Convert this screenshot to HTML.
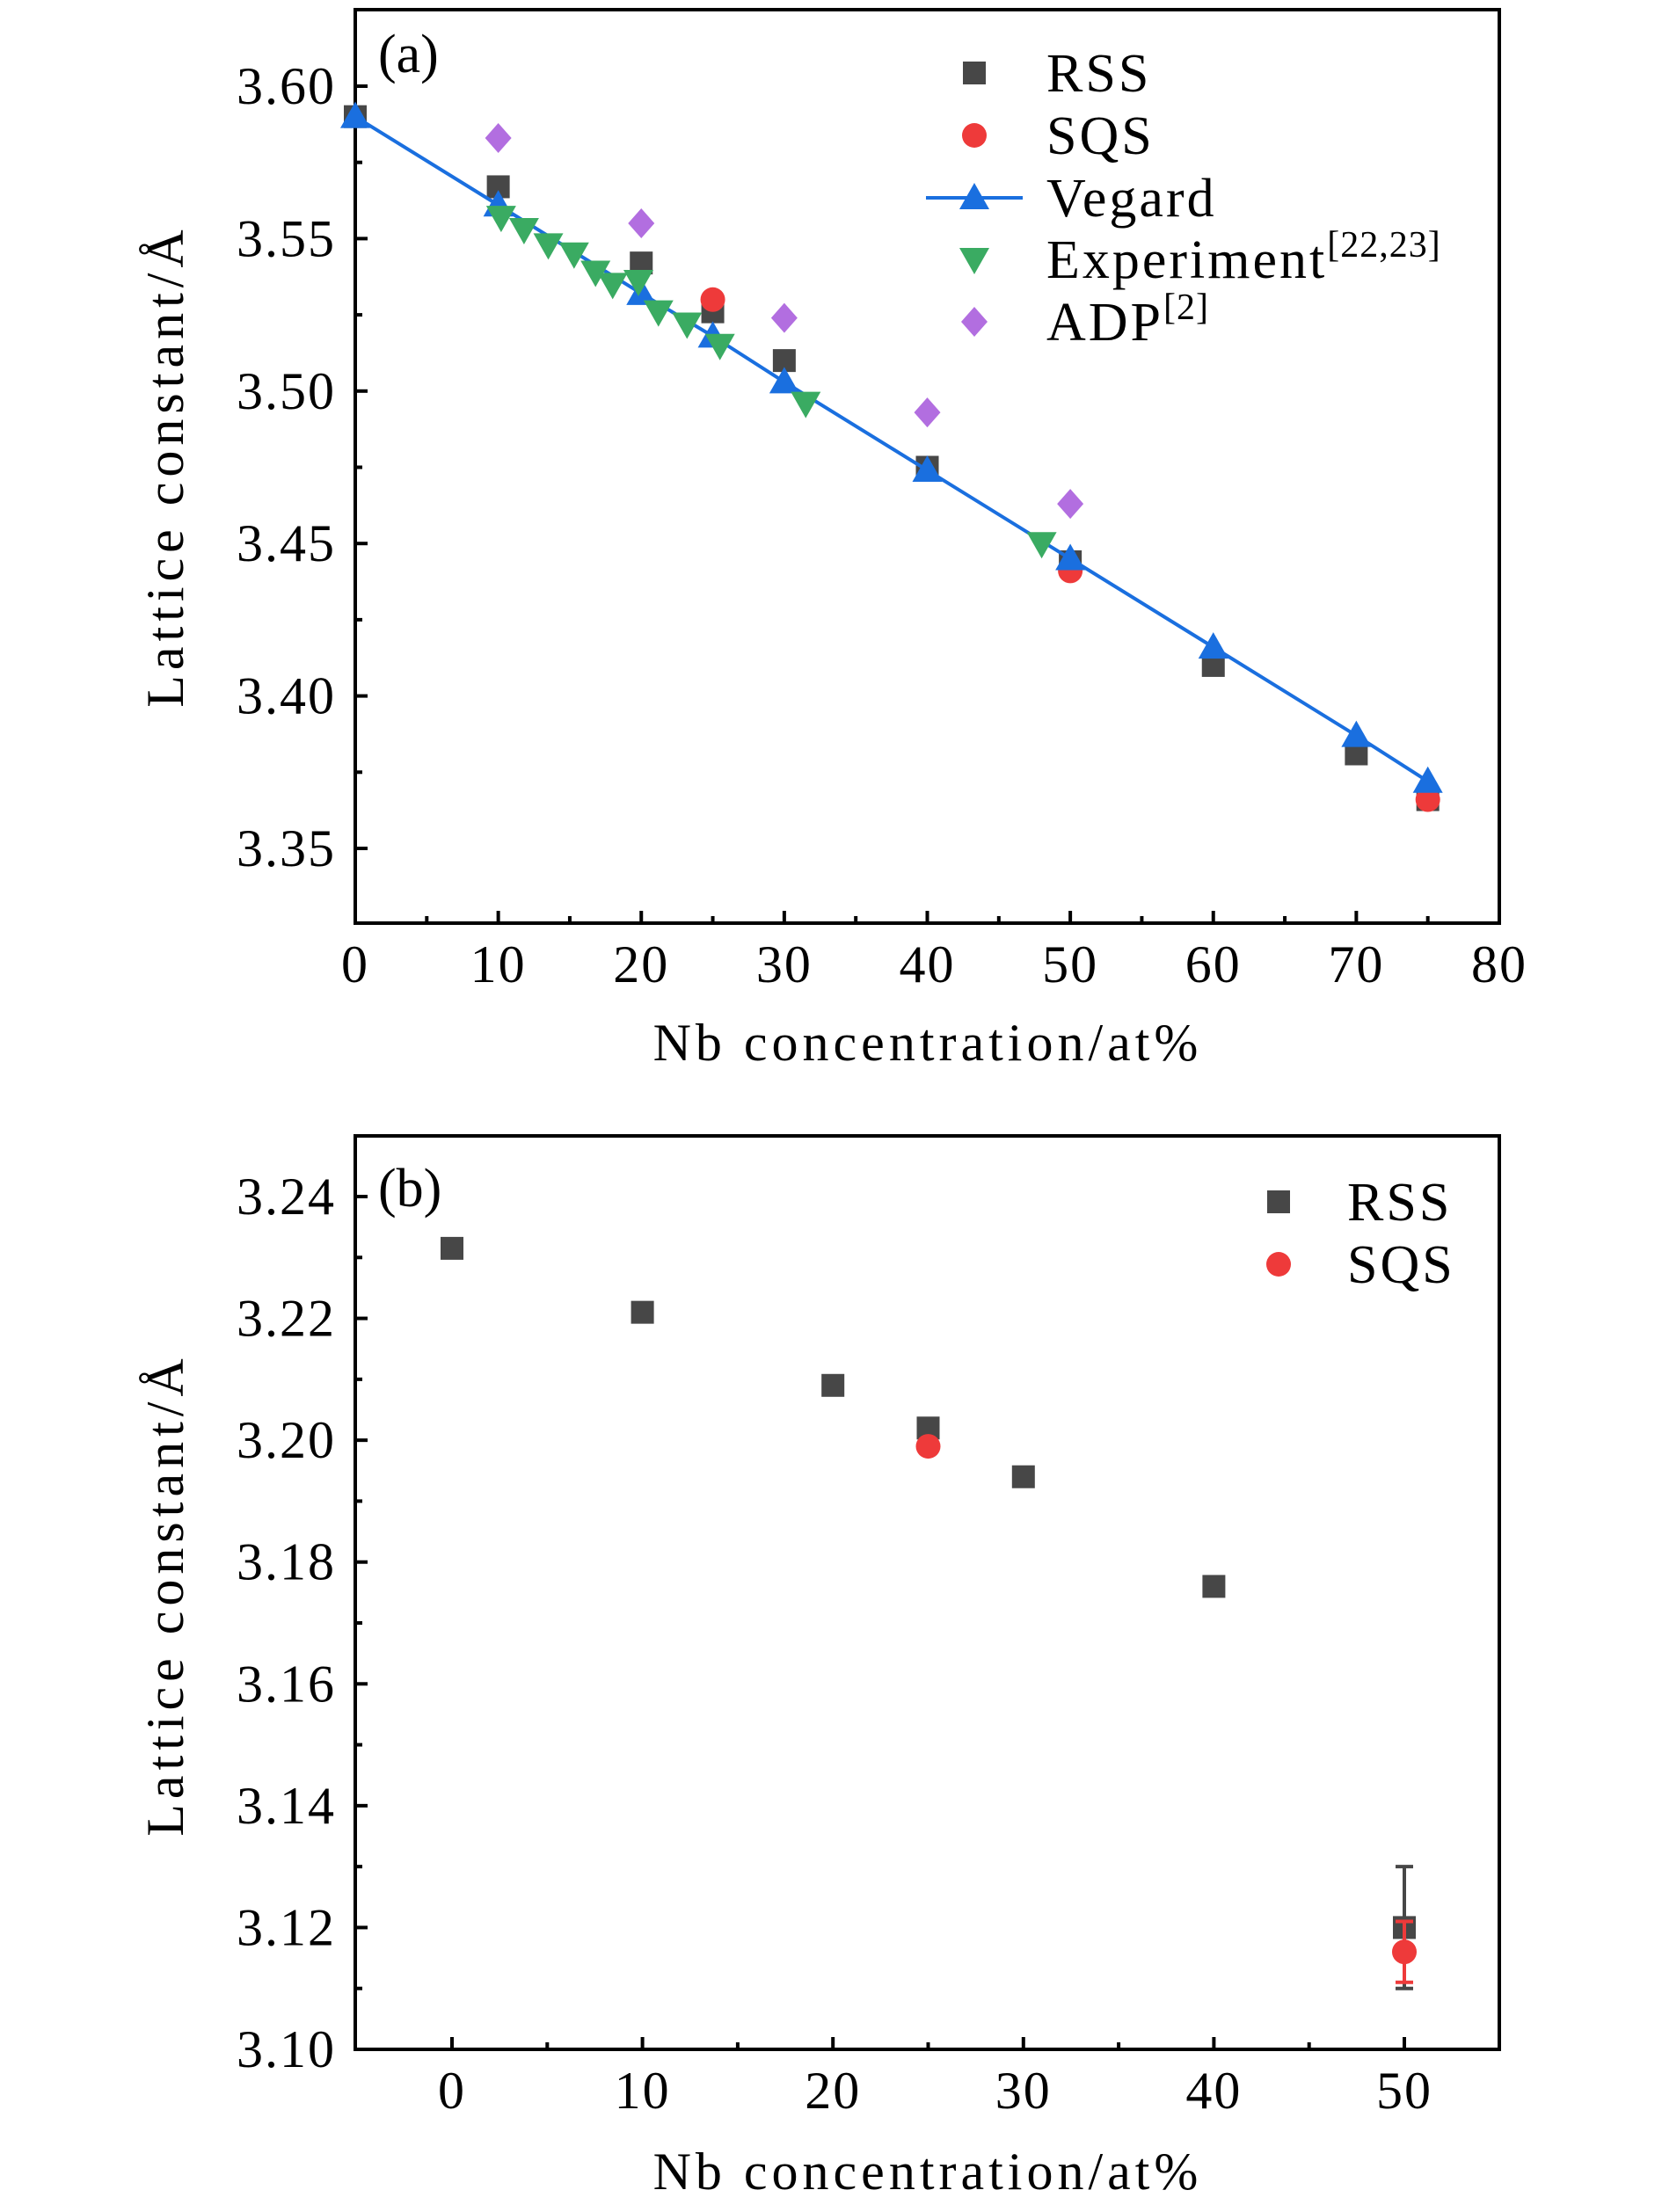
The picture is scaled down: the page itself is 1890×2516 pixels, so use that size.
<!DOCTYPE html>
<html><head><meta charset="utf-8"><style>
html,body{margin:0;padding:0;background:#fff;}
svg{display:block;font-family:"Liberation Serif","DejaVu Serif",serif;}
</style></head><body>
<svg id="chart" width="1890" height="2516" viewBox="0 0 1890 2516" xmlns="http://www.w3.org/2000/svg">
<g id="pa"></g>
<g id="pb"></g>
</svg>
<script>
// Panel (a) data
const aRssX=[0,10,20,25,30,40,50,60,70,75];
const aRssY=[3.590,3.567,3.542,3.526,3.510,3.475,3.444,3.410,3.381,3.366];
const aSqsX=[25,50,75];
const aSqsY=[3.530,3.441,3.366];
const aVegX=[0,10,20,25,30,40,50,60,70,75];
const aVegY=[3.590,3.561,3.532,3.518,3.503,3.474,3.445,3.416,3.387,3.372];
const aExpX=[10.2,11.8,13.5,15.3,16.8,18.0,19.8,21.2,23.2,25.5,31.5,48.0];
const aExpY=[3.557,3.553,3.548,3.545,3.539,3.535,3.536,3.526,3.522,3.515,3.496,3.450];
const aAdpX=[10,20,30,40,50];
const aAdpY=[3.583,3.555,3.524,3.493,3.463];
const aXTicks=[0,10,20,30,40,50,60,70,80];
const aYTicks=["3.35","3.40","3.45","3.50","3.55","3.60"];
// Panel (b) data
const bRssX=[0,10,20,25,30,40,50];
const bRssY=[3.2315,3.221,3.209,3.202,3.194,3.176,3.120];
const bRssErr=[0,0,0,0,0,0,0.010];
const bSqsX=[25,50];
const bSqsY=[3.199,3.116];
const bSqsErr=[0,0.005];
const bXTicks=[0,10,20,30,40,50];
const bYTicks=["3.10","3.12","3.14","3.16","3.18","3.20","3.22","3.24"];

const NS="http://www.w3.org/2000/svg";
function mk(parent,tag,attrs,txt){const e=document.createElementNS(NS,tag);for(const k in attrs)e.setAttribute(k,attrs[k]);if(txt!==undefined)e.textContent=txt;parent.appendChild(e);return e;}
const C={rss:"#474747",sqs:"#ee3a3a",veg:"#1a6fdf",exp:"#3aab62",adp:"#b26ee0"};
function marker(g,type,x,y,name){
  let e;
  if(type==="sq"){e=mk(g,"rect",{x:x-13,y:y-13,width:26,height:26,fill:C.rss});}
  else if(type==="ci"){e=mk(g,"circle",{cx:x,cy:y,r:14,fill:C.sqs});}
  else if(type==="up"){e=mk(g,"polygon",{points:`${x},${y-17} ${x-17},${y+13} ${x+17},${y+13}`,fill:C.veg});}
  else if(type==="dn"){e=mk(g,"polygon",{points:`${x},${y+17} ${x-17},${y-13} ${x+17},${y-13}`,fill:C.exp});}
  else {e=mk(g,"polygon",{points:`${x},${y-17} ${x+15},${y} ${x},${y+17} ${x-15},${y}`,fill:C.adp});}
  
  
  return e;
}
function frame(g,L,R,T,B,sx,sy,xt,xMinor,yt,yMinor,ytitleY,xtitleY){
  mk(g,"rect",{x:L,y:T,width:R-L,height:B-T,fill:"none",stroke:"#000","stroke-width":4});
  xt.forEach(v=>{const x=sx(v);mk(g,"line",{x1:x,x2:x,y1:B,y2:B-14,stroke:"#000","stroke-width":4});
    const t=mk(g,"text",{x:x,y:B+67,"font-size":60,"text-anchor":"middle","letter-spacing":"2"},String(v));
    });
  xMinor.forEach(v=>{const x=sx(v);mk(g,"line",{x1:x,x2:x,y1:B,y2:B-8,stroke:"#000","stroke-width":4});});
  yt.forEach(s=>{const y=sy(parseFloat(s));mk(g,"line",{x1:L,x2:L+14,y1:y,y2:y,stroke:"#000","stroke-width":4});
    const t=mk(g,"text",{x:L-22,y:y+20,"font-size":60,"text-anchor":"end","letter-spacing":"2"},s);
    });
  yMinor.forEach(v=>{const y=sy(v);mk(g,"line",{x1:L,x2:L+8,y1:y,y2:y,stroke:"#000","stroke-width":4});});
  const yt2=mk(g,"text",{x:0,y:0,"font-size":60,"text-anchor":"middle","letter-spacing":"6",transform:`translate(208,${ytitleY}) rotate(-90)`},"Lattice constant/Å");
  
  const xt2=mk(g,"text",{x:1055,y:xtitleY,"font-size":60,"text-anchor":"middle","letter-spacing":"5"},"Nb concentration/at%");
  
}
// Panel A
(function(){
  const g=document.getElementById('pa');
  const L=404,R=1705,T=11,B=1050;
  const sx=v=>L+(v-0)/80*(R-L);
  const sy=v=>98+(3.60-v)/0.25*(965-98);
  const minorX=[5,15,25,35,45,55,65,75];
  const minorY=[3.375,3.425,3.475,3.525,3.575];
  frame(g,L,R,T,B,sx,sy,aXTicks,minorX,aYTicks,minorY,530,1206);
  const pl=mk(g,"text",{x:430,y:82,"font-size":62},"(a)");
  
  aRssX.forEach((x,i)=>marker(g,"sq",sx(x),sy(aRssY[i]),"rss-point"));
  aSqsX.forEach((x,i)=>marker(g,"ci",sx(x),sy(aSqsY[i]),"sqs-point"));
  const ln=mk(g,"polyline",{points:aVegX.map((x,i)=>sx(x)+","+sy(aVegY[i])).join(" "),fill:"none",stroke:C.veg,"stroke-width":4});
  
  aVegX.forEach((x,i)=>marker(g,"up",sx(x),sy(aVegY[i]),"vegard-point"));
  aExpX.forEach((x,i)=>marker(g,"dn",sx(x),sy(aExpY[i]),"experiment-point"));
  aAdpX.forEach((x,i)=>marker(g,"di",sx(x),sy(aAdpY[i]),"adp-point"));
  const lg=mk(g,"g",{});
  const mx=1108,lx=1190,rows=[83,154,225,295,366];
  marker(lg,"sq",mx,rows[0],"legend-rss-marker");
  marker(lg,"ci",mx,rows[1],"legend-sqs-marker");
  mk(lg,"line",{x1:mx-55,x2:mx+55,y1:rows[2],y2:rows[2],stroke:C.veg,"stroke-width":4});
  marker(lg,"up",mx,rows[2],"legend-vegard-marker");
  marker(lg,"dn",mx,rows[3],"legend-experiment-marker");
  marker(lg,"di",mx,rows[4],"legend-adp-marker");
  const labs=[["RSS",""],["SQS",""],["Vegard",""],["Experiment","[22,23]"],["ADP","[2]"]];
  labs.forEach((l,i)=>{const t=mk(lg,"text",{x:lx,y:rows[i]+21,"font-size":62,"letter-spacing":"3"},l[0]);
    if(l[1]){mk(t,"tspan",{"font-size":42,dy:-24,"letter-spacing":"1"},l[1]);}
    });
})();
// Panel B
(function(){
  const g=document.getElementById('pb');
  const L=404,R=1705,T=1292,B=2331;
  const sx=v=>514+v/10*216.6;
  const sy=v=>B-(v-3.10)/0.14*(B-1361);
  const minorX=[5,15,25,35,45];
  const minorY=[3.11,3.13,3.15,3.17,3.19,3.21,3.23];
  frame(g,L,R,T,B,sx,sy,bXTicks,minorX,bYTicks,minorY,1814,2490);
  const pl=mk(g,"text",{x:430,y:1372,"font-size":62},"(b)");
  
  bRssX.forEach((x,i)=>{if(bRssErr[i]>0){const X=sx(x);const e=mk(g,"path",{d:`M${X},${sy(bRssY[i]-bRssErr[i])}V${sy(bRssY[i]+bRssErr[i])}M${X-10},${sy(bRssY[i]-bRssErr[i])}h20M${X-10},${sy(bRssY[i]+bRssErr[i])}h20`,stroke:C.rss,"stroke-width":4,fill:"none"});
    }
    marker(g,"sq",sx(x),sy(bRssY[i]),"rss-point");});
  bSqsX.forEach((x,i)=>{marker(g,"ci",sx(x),sy(bSqsY[i]),"sqs-point");
    if(bSqsErr[i]>0){const X=sx(x);const e=mk(g,"path",{d:`M${X},${sy(bSqsY[i]-bSqsErr[i])}V${sy(bSqsY[i]+bSqsErr[i])}M${X-10},${sy(bSqsY[i]-bSqsErr[i])}h20M${X-10},${sy(bSqsY[i]+bSqsErr[i])}h20`,stroke:C.sqs,"stroke-width":4,fill:"none"});
    }});
  const lg=mk(g,"g",{});
  marker(lg,"sq",1454,1367,"legend-rss-marker");
  marker(lg,"ci",1454,1438,"legend-sqs-marker");
  [["RSS",1367],["SQS",1438]].forEach(l=>{const t=mk(lg,"text",{x:1532,y:l[1]+21,"font-size":62,"letter-spacing":"3"},l[0]);
    });
})();
</script>
</body></html>
